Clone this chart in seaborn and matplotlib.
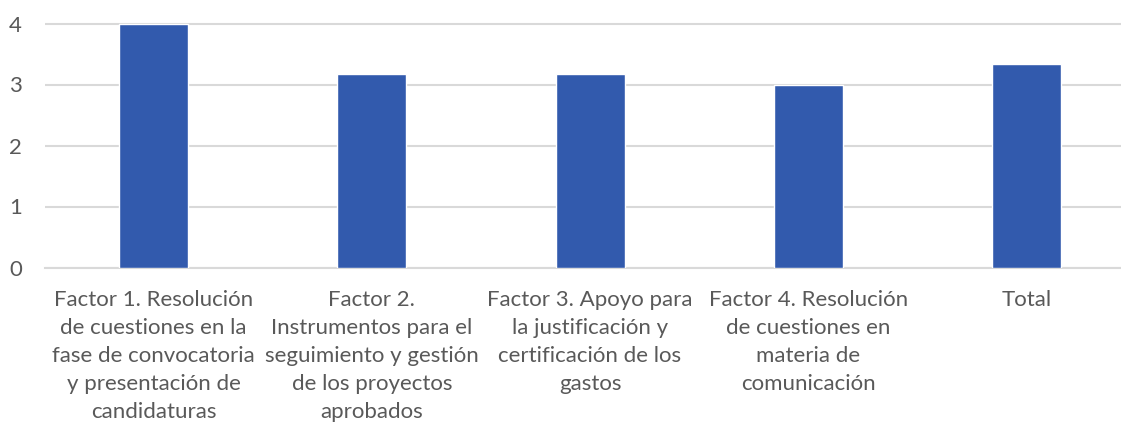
import matplotlib
matplotlib.use("Agg")
import matplotlib.pyplot as plt
import seaborn as sns
import pandas as pd

categories = [
    "Factor 1. Resolución\nde cuestiones en la\nfase de convocatoria\ny presentación de\ncandidaturas",
    "Factor 2.\nInstrumentos para el\nseguimiento y gestión\nde los proyectos\naprobados",
    "Factor 3. Apoyo para\nla justificación y\ncertificación de los\ngastos",
    "Factor 4. Resolución\nde cuestiones en\nmateria de\ncomunicación",
    "Total",
]
values = [4.0, 3.17, 3.17, 3.0, 3.33]
yticks = [0, 1, 2, 3, 4]

sns.set_theme(style="white")
plt.rcParams['font.family'] = ['Lato', 'DejaVu Sans']

df = pd.DataFrame({"cat": categories, "val": values})

fig = plt.figure(figsize=(11.21, 4.25), dpi=100)
ax = fig.add_axes([44.5 / 1121, 157.5 / 425, 1 - 44.5 / 1121, 250.1 / 425])

sns.barplot(data=df, x="cat", y="val", color="#325AAD", width=0.316,
            saturation=1, ax=ax, zorder=3)

ax.set_ylim(0, 4.1)
ax.set_xlim(-0.5, 4.433)
ax.set_yticks(yticks)
ax.set_yticklabels([str(t) for t in yticks])
ax.yaxis.grid(True, color="#D9D9D9", linewidth=1.5, zorder=0)
ax.set_axisbelow(True)
for s in ["top", "right", "left"]:
    ax.spines[s].set_visible(False)
ax.spines["bottom"].set_color("#D9D9D9")
ax.spines["bottom"].set_linewidth(1.5)
ax.set_xlabel("")
ax.set_ylabel("")
ax.tick_params(axis="x", length=0, pad=16, labelsize=16, labelcolor="#595959")
ax.tick_params(axis="y", length=0, pad=21, labelsize=16, labelcolor="#595959")
for lbl in ax.get_yticklabels():
    lbl.set_ha("center")
for lbl in ax.get_xticklabels():
    lbl.set_linespacing(1.5)
    lbl.set_ha("center")
    lbl.set_multialignment("center")

fig.savefig("out.png", dpi=100)
